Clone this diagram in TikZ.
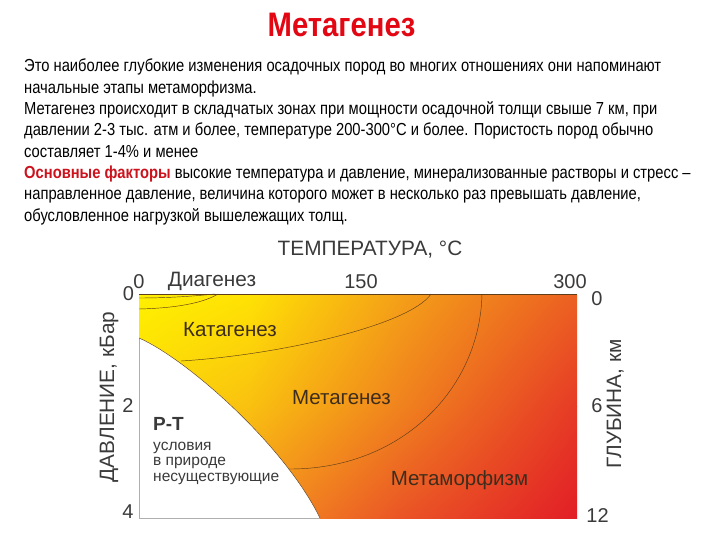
\documentclass[tikz,border=0pt]{standalone}
\usepackage{fontspec}
\setmainfont{Liberation Sans}
\newfontfamily\narrowfont[FakeStretch=0.847]{Liberation Sans}
\newfontfamily\headfont[FakeStretch=0.86]{Liberation Sans}
\usepackage{tikz}
\usetikzlibrary{shadings}
\definecolor{titleRed}{RGB}{227,6,19}
\definecolor{factRed}{RGB}{204,18,28}
\definecolor{chartText}{RGB}{58,58,58}
\definecolor{zoneText}{RGB}{62,45,28}
\definecolor{zoneLine}{RGB}{95,62,25}
\definecolor{rimGray}{RGB}{175,175,175}
\definecolor{heatAa}{RGB}{255,240,0}
\definecolor{heatBa}{RGB}{255,226,4}
\definecolor{heatCa}{RGB}{244,160,24}
\definecolor{heatDa}{RGB}{236,96,34}
\definecolor{heatAb}{RGB}{251,216,8}
\definecolor{heatBb}{RGB}{249,192,16}
\definecolor{heatCb}{RGB}{240,130,30}
\definecolor{heatDb}{RGB}{230,58,38}
\definecolor{heatAc}{RGB}{246,170,24}
\definecolor{heatBc}{RGB}{244,146,32}
\definecolor{heatCc}{RGB}{234,84,38}
\definecolor{heatDc}{RGB}{226,30,38}

\begin{document}
\begin{tikzpicture}[x=1pt,y=-1pt, bodyline/.style={anchor=base west,inner sep=0pt,font=\narrowfont\fontsize{17.4}{20}\selectfont}, tick/.style={anchor=base,inner sep=0pt,text=chartText,font=\fontsize{20.8}{24}\selectfont}, digit/.style={tick,font=\fontsize{20}{24}\selectfont}, zone/.style={anchor=base,inner sep=0pt,text=zoneText,font=\fontsize{20.5}{24}\selectfont}, ptnote/.style={anchor=base west,inner sep=0pt,text=chartText,font=\fontsize{15.5}{18}\selectfont}, bound/.style={draw=zoneLine,line width=0.45pt}]
            \useasboundingbox (0,0) rectangle (720,540);

            \node[anchor=base,font=\headfont\bfseries\fontsize{34}{38}\selectfont,text=titleRed,inner sep=0pt] (title) at (341.5,37) {Метагенез};

            \node[bodyline] (l1) at (24,72) {Это наиболее глубокие изменения осадочных пород во многих отношениях они напоминают};
            \node[bodyline] (l2) at (24,93.3) {начальные этапы метаморфизма.};
            \node[bodyline] (l3) at (24,114.6) {Метагенез происходит в складчатых зонах при мощности осадочной толщи свыше 7 км, при};
            \node[bodyline] (l4) at (24,135.9) {давлении 2-3 тыс. атм и более, температуре 200-300°C и более. Пористость пород обычно};
            \node[bodyline] (l5) at (24,157.2) {составляет 1-4\% и менее};
            \node[bodyline] (l6) at (24,178.5) {\textcolor{factRed}{\bfseries Основные факторы} высокие температура и давление, минерализованные растворы и стресс –};
            \node[bodyline] (l7) at (24,199.8) {направленное давление, величина которого может в несколько раз превышать давление,};
            \node[bodyline] (l8) at (24,221.1) {обусловленное нагрузкой вышележащих толщ.};

            % heat field, two rows of three patches
            \shade[upper left=heatAa,upper right=heatBa,lower left=heatAb,lower right=heatBb] (139,294) rectangle (250.5,406.5);
            \shade[upper left=heatBa,upper right=heatCa,lower left=heatBb,lower right=heatCb] (250,294) rectangle (400.5,406.5);
            \shade[upper left=heatCa,upper right=heatDa,lower left=heatCb,lower right=heatDb] (400,294) rectangle (577,406.5);
            \shade[upper left=heatAb,upper right=heatBb,lower left=heatAc,lower right=heatBc] (139,406) rectangle (250.5,518);
            \shade[upper left=heatBb,upper right=heatCb,lower left=heatBc,lower right=heatCc] (250,406) rectangle (400.5,518);
            \shade[upper left=heatCb,upper right=heatDb,lower left=heatCc,lower right=heatDc] (400,406) rectangle (577,518);

            \fill[white] (139,338) .. controls (185,358) and (283,443) .. (320,518) -- (139,518) -- cycle;
            \draw[rimGray,line width=0.8pt] (139,338) -- (139,518) -- (320,518);
            \draw[bound] (139,294) -- (577,294);
            \draw[bound] (139,338) .. controls (185,358) and (283,443) .. (320,518);
            \draw[bound] (139,298) .. controls (170,298) and (195,296) .. (215,294);
            \draw[bound] (139,309) .. controls (180,308) and (205,302) .. (218,294);
            \draw[bound] (181,361) .. controls (280,355) and (410,325) .. (431,294);
            \draw[bound] (288,469) .. controls (400,470) and (480,390) .. (482,294);

            \node[tick] (tempAxis) at (370,255) {ТЕМПЕРАТУРА, °C};
            \node[digit] (t0) at (139,288) {0};
            \node[tick] (diag) at (212,286) {Диагенез};
            \node[digit] (t150) at (361,288) {150};
            \node[digit] (t300) at (570,288) {300};
            \node[digit] (p0) at (128.5,300) {0};
            \node[digit] (p2) at (128,412) {2};
            \node[digit] (p4) at (128,518) {4};
            \node[digit] (d0) at (597,305) {0};
            \node[digit] (d6) at (597,412) {6};
            \node[digit] (d12) at (597.5,522) {12};
            \node[tick,rotate=90] (presAxis) at (114,397) {ДАВЛЕНИЕ, кБар};
            \node[tick,rotate=90] (depthAxis) at (621,404) {ГЛУБИНА, км};

            \node[zone] (kata) at (230,336) {Катагенез};
            \node[zone] (meta) at (341.5,404) {Метагенез};
            \node[zone] (morph) at (459.5,485) {Метаморфизм};

            \node[ptnote,font=\bfseries\fontsize{19}{22}\selectfont] (pt) at (153,430) {P-T};
            \node[ptnote] (pt1) at (153,450) {условия};
            \node[ptnote] (pt2) at (153,465.5) {в природе};
            \node[ptnote] (pt3) at (153,481.5) {несуществующие};
        \end{tikzpicture}
\end{document}
